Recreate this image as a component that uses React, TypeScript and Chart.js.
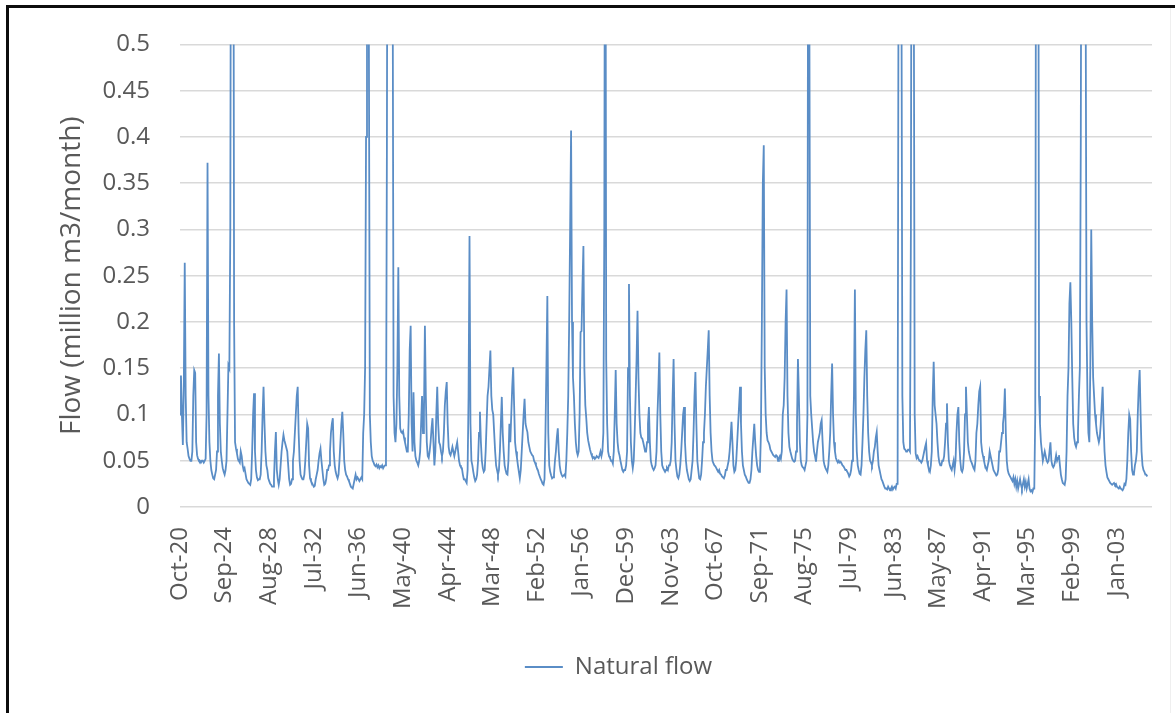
import React, { useEffect, useRef } from 'react';
import { Chart, registerables } from 'chart.js';

Chart.register(...registerables);

// ---- Data (monthly natural flow, million m3/month), one row per water year Oct..Sep ----
const flow1920s: number[][] = [
  [0.10, 0.142, 0.10, 0.067, 0.13, 0.264, 0.12, 0.07, 0.063, 0.055, 0.052, 0.05],
  [0.05, 0.06, 0.12, 0.148, 0.145, 0.07, 0.056, 0.052, 0.05, 0.05, 0.048, 0.05],
  [0.05, 0.048, 0.05, 0.052, 0.1, 0.372, 0.12, 0.07, 0.05, 0.04, 0.035, 0.031],
  [0.03, 0.035, 0.04, 0.06, 0.12, 0.166, 0.09, 0.06, 0.05, 0.042, 0.038, 0.035],
  [0.04, 0.05, 0.1, 0.153, 0.15, 0.3, 0.9, 0.7, 0.9, 0.2, 0.07, 0.063],
  [0.058, 0.052, 0.05, 0.048, 0.06, 0.055, 0.045, 0.04, 0.042, 0.036, 0.03, 0.028],
  [0.026, 0.025, 0.024, 0.03, 0.06, 0.1, 0.123, 0.06, 0.04, 0.032, 0.029, 0.03],
  [0.03, 0.035, 0.06, 0.1, 0.13, 0.09, 0.06, 0.045, 0.04, 0.031, 0.028, 0.025],
  [0.024, 0.022, 0.022, 0.03, 0.06, 0.081, 0.04, 0.03, 0.024, 0.03, 0.045, 0.06],
  [0.07, 0.078, 0.072, 0.068, 0.064, 0.06, 0.045, 0.03, 0.024, 0.025, 0.03, 0.05],
];
const flow1930s: number[][] = [
  [0.06, 0.08, 0.1, 0.12, 0.13, 0.08, 0.05, 0.035, 0.032, 0.03, 0.03, 0.035],
  [0.05, 0.07, 0.09, 0.085, 0.045, 0.031, 0.028, 0.026, 0.024, 0.022, 0.023, 0.03],
  [0.035, 0.04, 0.05, 0.058, 0.063, 0.05, 0.04, 0.03, 0.024, 0.025, 0.03, 0.04],
  [0.04, 0.045, 0.06, 0.08, 0.09, 0.096, 0.06, 0.045, 0.038, 0.034, 0.031, 0.035],
  [0.05, 0.07, 0.09, 0.103, 0.08, 0.05, 0.04, 0.035, 0.033, 0.03, 0.028, 0.025],
  [0.022, 0.021, 0.02, 0.025, 0.03, 0.035, 0.03, 0.032, 0.03, 0.028, 0.03, 0.032],
  [0.03, 0.08, 0.1, 0.15, 0.4, 1.0, 1.2, 0.5, 0.1, 0.07, 0.055, 0.05],
  [0.048, 0.045, 0.044, 0.046, 0.043, 0.045, 0.042, 0.044, 0.043, 0.045, 0.042, 0.044],
  [0.045, 0.05, 0.4, 1.0, 1.2, 1.1, 0.9, 0.9, 0.6, 0.12, 0.08, 0.07],
  [0.09, 0.15, 0.259, 0.12, 0.085, 0.081, 0.08, 0.082, 0.075, 0.07, 0.065, 0.06],
];
const flow1940s: number[][] = [
  [0.06, 0.1, 0.17, 0.196, 0.09, 0.06, 0.124, 0.07, 0.055, 0.05, 0.048, 0.045],
  [0.05, 0.06, 0.09, 0.12, 0.08, 0.1, 0.196, 0.12, 0.07, 0.055, 0.053, 0.06],
  [0.07, 0.085, 0.096, 0.07, 0.045, 0.06, 0.1, 0.13, 0.09, 0.07, 0.067, 0.06],
  [0.055, 0.06, 0.08, 0.11, 0.125, 0.135, 0.09, 0.065, 0.058, 0.056, 0.06, 0.065],
  [0.06, 0.055, 0.06, 0.065, 0.07, 0.06, 0.05, 0.045, 0.043, 0.042, 0.035, 0.03],
  [0.03, 0.028, 0.026, 0.04, 0.12, 0.293, 0.09, 0.05, 0.045, 0.038, 0.032, 0.028],
  [0.03, 0.035, 0.05, 0.08, 0.103, 0.07, 0.05, 0.042, 0.038, 0.04, 0.06, 0.09],
  [0.12, 0.13, 0.15, 0.169, 0.12, 0.105, 0.1, 0.08, 0.06, 0.045, 0.04, 0.035],
  [0.04, 0.06, 0.09, 0.119, 0.08, 0.06, 0.045, 0.04, 0.036, 0.035, 0.05, 0.09],
  [0.07, 0.1, 0.13, 0.151, 0.11, 0.07, 0.06, 0.053, 0.045, 0.038, 0.031, 0.04],
];
const flow1950s: number[][] = [
  [0.06, 0.08, 0.1, 0.117, 0.09, 0.085, 0.081, 0.07, 0.065, 0.06, 0.058, 0.056],
  [0.055, 0.05, 0.048, 0.045, 0.042, 0.04, 0.036, 0.033, 0.03, 0.028, 0.025, 0.024],
  [0.03, 0.08, 0.15, 0.228, 0.08, 0.045, 0.038, 0.034, 0.031, 0.032, 0.035, 0.05],
  [0.06, 0.075, 0.085, 0.06, 0.045, 0.038, 0.035, 0.033, 0.034, 0.035, 0.033, 0.05],
  [0.08, 0.12, 0.2, 0.3, 0.407, 0.2, 0.14, 0.12, 0.09, 0.07, 0.06, 0.056],
  [0.06, 0.1, 0.189, 0.19, 0.24, 0.282, 0.15, 0.11, 0.096, 0.08, 0.072, 0.067],
  [0.062, 0.058, 0.055, 0.053, 0.054, 0.052, 0.053, 0.055, 0.054, 0.053, 0.056, 0.06],
  [0.055, 0.06, 0.08, 0.3, 0.9, 0.16, 0.09, 0.06, 0.055, 0.053, 0.05, 0.05],
  [0.047, 0.06, 0.1, 0.148, 0.09, 0.07, 0.06, 0.056, 0.05, 0.045, 0.04, 0.038],
  [0.04, 0.04, 0.045, 0.06, 0.15, 0.241, 0.12, 0.07, 0.05, 0.042, 0.05, 0.08],
];
const flow1960s: number[][] = [
  [0.12, 0.16, 0.212, 0.14, 0.1, 0.08, 0.075, 0.074, 0.07, 0.065, 0.06, 0.06],
  [0.07, 0.09, 0.108, 0.07, 0.05, 0.045, 0.042, 0.04, 0.042, 0.045, 0.06, 0.1],
  [0.13, 0.167, 0.1, 0.06, 0.045, 0.042, 0.04, 0.038, 0.04, 0.042, 0.04, 0.045],
  [0.045, 0.05, 0.07, 0.12, 0.16, 0.09, 0.05, 0.04, 0.033, 0.031, 0.035, 0.045],
  [0.06, 0.08, 0.1, 0.108, 0.07, 0.05, 0.04, 0.035, 0.03, 0.028, 0.03, 0.04],
  [0.05, 0.08, 0.12, 0.146, 0.09, 0.05, 0.04, 0.031, 0.03, 0.035, 0.05, 0.07],
  [0.08, 0.1, 0.13, 0.15, 0.17, 0.191, 0.12, 0.08, 0.06, 0.05, 0.047, 0.045],
  [0.044, 0.042, 0.04, 0.038, 0.04, 0.036, 0.035, 0.033, 0.032, 0.031, 0.034, 0.04],
  [0.04, 0.045, 0.05, 0.06, 0.075, 0.092, 0.07, 0.045, 0.038, 0.04, 0.05, 0.07],
  [0.09, 0.11, 0.13, 0.09, 0.06, 0.045, 0.04, 0.035, 0.033, 0.03, 0.028, 0.026],
];
const flow1970s: number[][] = [
  [0.026, 0.03, 0.04, 0.06, 0.075, 0.09, 0.07, 0.055, 0.045, 0.04, 0.038, 0.04],
  [0.08, 0.2, 0.35, 0.391, 0.15, 0.1, 0.08, 0.072, 0.07, 0.067, 0.062, 0.06],
  [0.058, 0.056, 0.055, 0.054, 0.056, 0.055, 0.05, 0.053, 0.055, 0.052, 0.06, 0.1],
  [0.11, 0.14, 0.2, 0.235, 0.12, 0.08, 0.065, 0.06, 0.056, 0.052, 0.05, 0.049],
  [0.05, 0.06, 0.09, 0.16, 0.12, 0.07, 0.05, 0.045, 0.043, 0.042, 0.04, 0.045],
  [0.05, 0.1, 0.9, 0.55, 0.12, 0.1, 0.085, 0.07, 0.06, 0.055, 0.049, 0.06],
  [0.07, 0.075, 0.08, 0.09, 0.094, 0.07, 0.05, 0.045, 0.042, 0.04, 0.038, 0.045],
  [0.06, 0.08, 0.12, 0.155, 0.1, 0.07, 0.06, 0.053, 0.05, 0.048, 0.05, 0.048],
  [0.049, 0.047, 0.045, 0.044, 0.042, 0.04, 0.04, 0.038, 0.036, 0.033, 0.035, 0.04],
  [0.05, 0.07, 0.12, 0.235, 0.1, 0.06, 0.045, 0.04, 0.036, 0.035, 0.045, 0.07],
];
const flow1980s: number[][] = [
  [0.1, 0.14, 0.17, 0.191, 0.12, 0.08, 0.06, 0.05, 0.048, 0.045, 0.05, 0.06],
  [0.065, 0.075, 0.081, 0.06, 0.045, 0.04, 0.035, 0.03, 0.028, 0.025, 0.022, 0.02],
  [0.02, 0.019, 0.022, 0.02, 0.018, 0.02, 0.022, 0.019, 0.021, 0.022, 0.02, 0.025],
  [0.025, 0.6, 0.9, 0.7, 0.6, 0.12, 0.07, 0.063, 0.062, 0.06, 0.06, 0.062],
  [0.062, 0.06, 0.3, 0.9, 0.8, 0.6, 0.1, 0.058, 0.053, 0.055, 0.052, 0.05],
  [0.05, 0.048, 0.05, 0.055, 0.06, 0.065, 0.069, 0.05, 0.045, 0.04, 0.038, 0.045],
  [0.06, 0.12, 0.157, 0.11, 0.1, 0.09, 0.07, 0.055, 0.048, 0.045, 0.045, 0.05],
  [0.05, 0.055, 0.07, 0.09, 0.112, 0.07, 0.05, 0.045, 0.042, 0.04, 0.045, 0.05],
  [0.04, 0.05, 0.08, 0.1, 0.108, 0.07, 0.05, 0.04, 0.038, 0.042, 0.06, 0.1],
  [0.13, 0.1, 0.07, 0.06, 0.055, 0.05, 0.048, 0.045, 0.042, 0.04, 0.05, 0.08],
];
const flow1990s: number[][] = [
  [0.09, 0.11, 0.125, 0.13, 0.07, 0.06, 0.055, 0.05, 0.045, 0.042, 0.04, 0.045],
  [0.05, 0.06, 0.055, 0.05, 0.045, 0.04, 0.038, 0.036, 0.034, 0.035, 0.04, 0.06],
  [0.06, 0.07, 0.08, 0.09, 0.1, 0.128, 0.08, 0.05, 0.04, 0.036, 0.034, 0.032],
  [0.03, 0.028, 0.032, 0.025, 0.03, 0.022, 0.028, 0.02, 0.025, 0.03, 0.024, 0.02],
  [0.025, 0.03, 0.022, 0.027, 0.02, 0.025, 0.03, 0.02, 0.017, 0.018, 0.016, 0.02],
  [0.02, 0.1, 0.8, 1.0, 0.9, 0.12, 0.09, 0.07, 0.06, 0.05, 0.055, 0.06],
  [0.055, 0.05, 0.048, 0.05, 0.06, 0.07, 0.05, 0.045, 0.043, 0.045, 0.05, 0.056],
  [0.05, 0.053, 0.056, 0.045, 0.035, 0.03, 0.026, 0.025, 0.024, 0.03, 0.06, 0.12],
  [0.15, 0.22, 0.243, 0.2, 0.14, 0.09, 0.075, 0.068, 0.065, 0.07, 0.08, 0.12],
  [0.15, 0.4, 0.9, 1.1, 0.9, 0.8, 0.6, 0.2, 0.12, 0.08, 0.07, 0.15],
];
const flow2000s: number[][] = [
  [0.3, 0.2, 0.14, 0.12, 0.1, 0.09, 0.08, 0.075, 0.07, 0.075, 0.09, 0.11],
  [0.13, 0.09, 0.06, 0.045, 0.038, 0.032, 0.03, 0.028, 0.026, 0.025, 0.024, 0.025],
  [0.026, 0.024, 0.025, 0.022, 0.021, 0.02, 0.022, 0.02, 0.019, 0.018, 0.02, 0.025],
  [0.024, 0.03, 0.05, 0.08, 0.1, 0.095, 0.06, 0.04, 0.035, 0.036, 0.045, 0.05],
  [0.06, 0.1, 0.13, 0.148, 0.1, 0.06, 0.045, 0.04, 0.038, 0.035, 0.035, 0.033],
];

const MONTH_NAMES = ['Jan', 'Feb', 'Mar', 'Apr', 'May', 'Jun', 'Jul', 'Aug', 'Sep', 'Oct', 'Nov', 'Dec'];
const START_YEAR = 1920;
const START_MONTH = 9; // October
const TRAILING_EMPTY_MONTHS = 5;
const LABEL_STEP = 47;
const SERIES_NAME = 'Natural flow';
const Y_TITLE = 'Flow (million m3/month)';

const naturalFlow: number[] = [
  ...flow1920s, ...flow1930s, ...flow1940s, ...flow1950s, ...flow1960s,
  ...flow1970s, ...flow1980s, ...flow1990s, ...flow2000s,
].flat();

const monthLabels: string[] = Array.from({ length: naturalFlow.length + TRAILING_EMPTY_MONTHS }, (_, i) => {
  const m = START_MONTH + i;
  const year = START_YEAR + Math.floor(m / 12);
  return `${MONTH_NAMES[m % 12]}-${String(year % 100).padStart(2, '0')}`;
});

const TEXT = '#595959';
const GRID = '#d9d9d9';
const LINE = '#5a8dc6';
const FONT = "'Open Sans', 'Noto Sans', sans-serif";

export default function App() {
  const canvasRef = useRef<HTMLCanvasElement | null>(null);

  useEffect(() => {
    const canvas = canvasRef.current;
    if (!canvas) return;
    Chart.defaults.font.family = FONT;
    const chart = new Chart(canvas, {
      type: 'line',
      data: {
        labels: monthLabels,
        datasets: [
          {
            label: SERIES_NAME,
            data: naturalFlow,
            borderColor: LINE,
            backgroundColor: LINE,
            borderWidth: 1.8,
            pointRadius: 0,
            tension: 0,
            fill: false,
          },
        ],
      },
      options: {
        animation: false,
        responsive: false,
        maintainAspectRatio: false,
        layout: { padding: { left: 0, right: 0, top: 43, bottom: 24 } },
        plugins: {
          tooltip: { enabled: false },
          legend: {
            position: 'bottom',
            labels: {
              usePointStyle: true,
              pointStyle: 'line',
              pointStyleWidth: 38,
              color: TEXT,
              font: { size: 24, family: FONT },
            },
          },
        },
        scales: {
          x: {
            type: 'category',
            grid: { display: false, drawTicks: false },
            border: { display: false },
            ticks: {
              autoSkip: false,
              minRotation: 90,
              maxRotation: 90,
              padding: 20,
              color: TEXT,
              font: { size: 24, family: FONT },
            },
            afterBuildTicks: (axis: any) => {
              axis.ticks = axis.ticks.filter((t: any) => t.value % LABEL_STEP === 0);
            },
            afterFit: (s: any) => {
              s.height = 138;
            },
          },
          y: {
            min: 0,
            max: 0.5,
            grid: { color: GRID, lineWidth: 1.5, drawTicks: false },
            border: { display: false },
            ticks: {
              stepSize: 0.05,
              padding: 30,
              color: TEXT,
              font: { size: 24, family: FONT },
              callback: (v: any) => String(Number(Number(v).toFixed(2))),
            },
            title: {
              display: true,
              text: Y_TITLE,
              color: TEXT,
              font: { size: 28, family: FONT },
              padding: { top: 55, bottom: 0 },
            },
            afterFit: (s: any) => {
              s.width = 180;
            },
          },
          yPad: {
            type: 'linear',
            position: 'right',
            grid: { display: false, drawTicks: false },
            border: { display: false },
            ticks: { display: false },
            afterFit: (s: any) => {
              s.width = 85;
            },
          },
        },
      },
    });
    return () => chart.destroy();
  }, []);

  return (
    <div
      style={{
        position: 'fixed',
        left: 0,
        top: 0,
        width: 1175,
        height: 713,
        overflow: 'hidden',
        background: '#ffffff',
      }}
    >
      <div
        style={{
          position: 'absolute',
          left: 6,
          top: 5,
          width: 1300,
          height: 800,
          borderTop: '3px solid #0d0d0d',
          borderLeft: '3px solid #0d0d0d',
          boxSizing: 'border-box',
        }}
      />
      <div style={{ position: 'absolute', left: 1170, top: 8, width: 1, height: 705, background: '#efefef' }} />
      <canvas
        ref={canvasRef}
        width={1237}
        height={713}
        style={{ position: 'absolute', left: 0, top: 0, width: 1237, height: 713 }}
      />
    </div>
  );
}
